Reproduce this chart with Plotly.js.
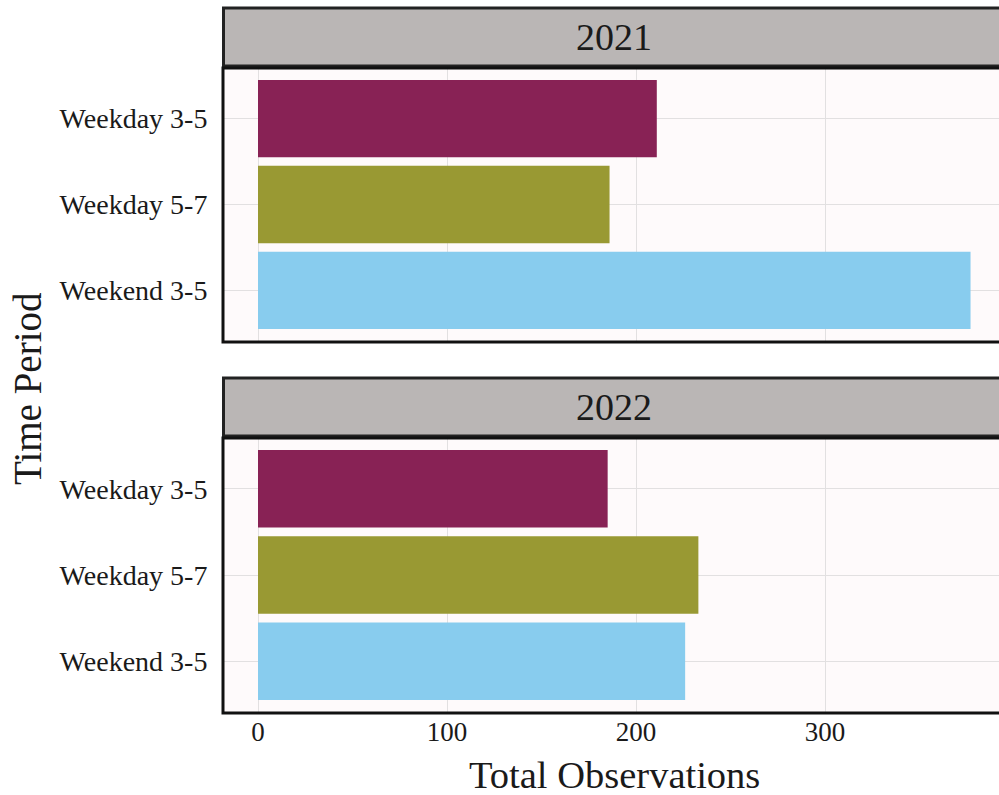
<!DOCTYPE html>
<html>
<head>
<meta charset="utf-8">
<script src="https://cdn.plot.ly/plotly-3.0.1.min.js"></script>
<style>html,body{margin:0;padding:0;background:#fff;}#chart{width:999px;height:795px;}</style>
</head>
<body>
<div id="chart"></div>
<script>
const periods = ["Weekday 3-5", "Weekday 5-7", "Weekend 3-5"];
const years = ["2021", "2022"];
const values2021 = [211, 186, 377];
const values2022 = [185, 233, 226];
const barColors = ["#882255", "#999933", "#88CCEE"];
const xTicks = [0, 100, 200, 300];

const W = 999, H = 795;
const FONT = "Liberation Serif, Times New Roman, serif";
const TXT = "#1a1a1a";
const px = v => v / W;
const py = v => 1 - v / H;

// panel geometry (px from top)
const panels = [
  {stripTop: 8, stripBot: 66, top: 67, bot: 342},
  {stripTop: 378, stripBot: 436, top: 437, bot: 713}
];
const panelLeft = 222;

const traces = [
  {type: "bar", orientation: "h", y: periods, x: values2021, width: 0.9,
   marker: {color: barColors}, xaxis: "x", yaxis: "y", showlegend: false, hoverinfo: "x+y"},
  {type: "bar", orientation: "h", y: periods, x: values2022, width: 0.9,
   marker: {color: barColors}, xaxis: "x2", yaxis: "y2", showlegend: false, hoverinfo: "x+y"}
];

const xRange = [-19.05, 392.06];
const gridCol = "#e2e0e1";
const xBase = {
  range: xRange, domain: [px(panelLeft), 1], tickvals: xTicks, showgrid: true,
  gridcolor: gridCol, gridwidth: 1, zeroline: false, showline: false,
  ticks: "", tickfont: {family: FONT, size: 27, color: TXT}
};
const yBase = {
  type: "category", categoryorder: "array", categoryarray: periods,
  range: [2.6, -0.6], showgrid: true, gridcolor: gridCol, gridwidth: 1,
  zeroline: false, showline: false, ticks: "outside", ticklen: 8,
  tickcolor: "rgba(0,0,0,0)", tickfont: {family: FONT, size: 28, color: TXT}
};

const shapes = [];
const annotations = [];
panels.forEach((p, i) => {
  // strip
  shapes.push({type: "rect", xref: "paper", yref: "paper",
    x0: px(panelLeft + 1.5), x1: px(W + 10), y0: py(p.stripBot), y1: py(p.stripTop),
    fillcolor: "#bab6b5", line: {color: "#222222", width: 3}, layer: "above"});
  // panel border
  shapes.push({type: "rect", xref: "paper", yref: "paper",
    x0: px(panelLeft + 1), x1: px(W + 10), y0: py(p.bot), y1: py(p.top + 1),
    fillcolor: "rgba(0,0,0,0)", line: {color: "#111111", width: 3}, layer: "above"});
  annotations.push({xref: "paper", yref: "paper", x: px(614), y: py((p.stripTop + p.stripBot) / 2),
    text: years[i], showarrow: false, xanchor: "center", yanchor: "middle",
    font: {family: FONT, size: 38, color: TXT}});
});
annotations.push({xref: "paper", yref: "paper", x: px(614), y: py(775),
  text: "Total Observations", showarrow: false, xanchor: "center", yanchor: "middle",
  borderpad: 0, font: {family: FONT, size: 38.5, color: TXT}});
annotations.push({xref: "paper", yref: "paper", x: px(27), y: py(389),
  text: "Time Period", showarrow: false, textangle: -90, xanchor: "center", yanchor: "middle",
  font: {family: FONT, size: 39, color: TXT}});

const layout = {
  width: W, height: H,
  margin: {l: 0, r: 0, t: 0, b: 0, pad: 0},
  paper_bgcolor: "#ffffff", plot_bgcolor: "#fefafb",
  font: {family: FONT, color: TXT},
  bargap: 0.1,
  xaxis: Object.assign({}, xBase, {anchor: "y", showticklabels: false}),
  xaxis2: Object.assign({}, xBase, {anchor: "y2", showticklabels: true}),
  yaxis: Object.assign({}, yBase, {domain: [py(panels[0].bot), py(panels[0].top)], anchor: "x"}),
  yaxis2: Object.assign({}, yBase, {domain: [py(panels[1].bot), py(panels[1].top)], anchor: "x2"}),
  shapes: shapes,
  annotations: annotations
};

Plotly.newPlot("chart", traces, layout, {displayModeBar: false, staticPlot: true});
</script>
</body>
</html>
